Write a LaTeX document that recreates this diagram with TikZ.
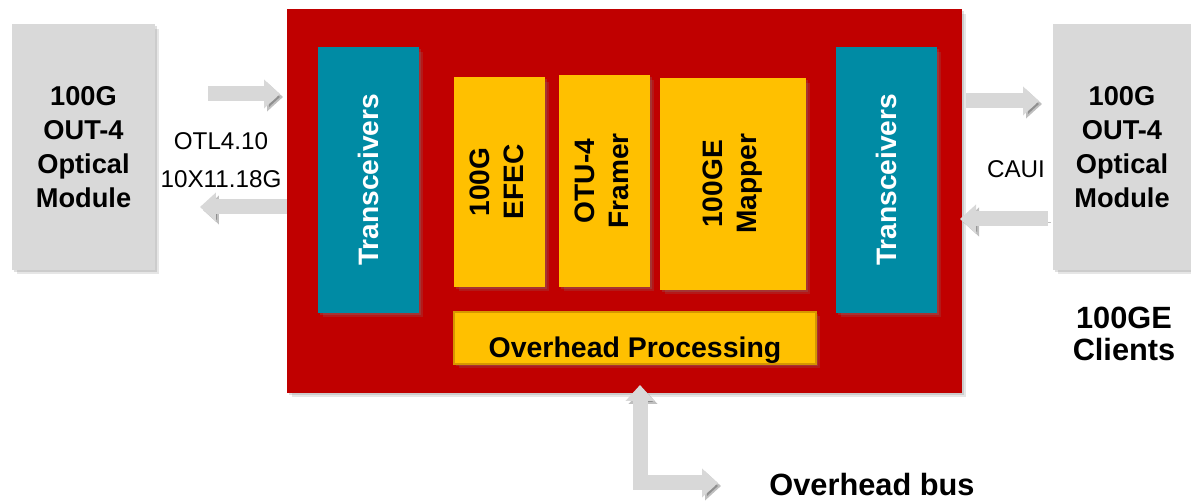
\documentclass[tikz,border=0pt]{standalone}
\usepackage{fontspec}
\setmainfont{Liberation Sans}
\usepackage{xcolor}
\usetikzlibrary{arrows.meta,shadows}
\definecolor{framered}{RGB}{192,0,0}
\definecolor{xcvrteal}{RGB}{0,139,164}
\definecolor{blockyellow}{RGB}{255,192,0}
\definecolor{ohpedge}{RGB}{214,150,0}
\definecolor{modgray}{RGB}{217,217,217}
\definecolor{pipegray}{RGB}{216,216,216}
\tikzset{
	boxshadow/.style={drop shadow={shadow xshift=0.04cm, shadow yshift=-0.04cm, opacity=0.25},
		drop shadow={shadow xshift=0.09cm, shadow yshift=-0.09cm, opacity=0.2}},
	fattip/.tip={Triangle[length=0.32cm, width=0.56cm]},
	fatarrow/.style={pipegray, line width=0.3cm, -fattip,
		preaction={draw=black, opacity=0.25, transform canvas={shift={(0.06cm,-0.06cm)}}}},
	module/.style={fill=modgray, boxshadow, align=center, inner sep=0pt, font=\fontsize{15.5}{19.3}\selectfont\bfseries},
	linklabel/.style={align=center, font=\fontsize{13.8}{21.5}\selectfont},
	biglabel/.style={align=center, font=\fontsize{17.5}{18.5}\selectfont\bfseries}
}

\begin{document}
\begin{tikzpicture}[
			x=0.02cm, y=-0.02cm,
			frame/.style={fill=framered, boxshadow, inner sep=0pt},
			xcvr/.style={fill=xcvrteal, boxshadow, text=white, inner sep=0pt, minimum width=2.02cm, minimum height=5.32cm, font=\fontsize{16}{19}\selectfont\bfseries},
			block/.style={fill=blockyellow, boxshadow, align=center, inner sep=0pt, font=\fontsize{16}{19.3}\selectfont\bfseries}
			]
			\useasboundingbox (0,0) rectangle (1191,502);
			
			% optical modules
			\node[module, minimum width=2.86cm, minimum height=4.92cm] (lmod) at (83.5,147) {100G\\OUT-4\\Optical\\Module};
			\node[module, minimum width=2.76cm, minimum height=4.92cm] (rmod) at (1122,147) {100G\\OUT-4\\Optical\\Module};
			
			\coordinate (linA) at (208,94);
			\coordinate (linB) at (280,94);
			\coordinate (loutA) at (298,207);
			\coordinate (loutB) at (200,207);
			\draw[fatarrow] (linA) -- (linB);
			\draw[fatarrow] (loutA) -- (loutB);
			
			% the card
			\node[frame, minimum width=13.5cm, minimum height=7.68cm] (card) at (624.5,201) {};
			
			\node[xcvr] (lxcvr) at (368.5,180) {\rotatebox{90}{Transceivers}};
			\node[xcvr] (rxcvr) at (886.5,180) {\rotatebox{90}{Transceivers}};
			
			\node[block, minimum width=1.82cm, minimum height=4.2cm] (efec) at (499.5,182)
			{\rotatebox{90}{\begin{tabular}{@{}c@{}}100G\\EFEC\end{tabular}}};
			\node[block, minimum width=1.82cm, minimum height=4.24cm] (framer) at (604.5,181)
			{\rotatebox{90}{\begin{tabular}{@{}c@{}}OTU-4\\Framer\end{tabular}}};
			\node[block, minimum width=2.92cm, minimum height=4.24cm] (mapper) at (733,184)
			{\rotatebox{90}{\begin{tabular}{@{}c@{}}100GE\\Mapper\end{tabular}}};
			
			\node[block, draw=ohpedge, line width=0.8pt, minimum width=7.24cm, minimum height=1.04cm,
			text height=0.8cm, text depth=0pt, font=\fontsize{16.2}{19}\selectfont\bfseries] (ohp) at (635,338) {Overhead Processing};
			
			% client side
			\coordinate (rinA) at (966,101);
			\coordinate (rinB) at (1039,101);
			\coordinate (routA) at (1048,219);
			\coordinate (routB) at (960,219);
			\draw[fatarrow] (rinA) -- (rinB);
			\draw[fatarrow] (routA) -- (routB);
			
			% overhead bus
			\coordinate (busup) at (640,385);
			\coordinate (busend) at (718,483);
			\draw[fatarrow, fattip-fattip] (busup) |- (busend);
			
			\node[linklabel] (otl) at (221,160) {OTL4.10\\10X11.18G};
			\node[linklabel] (caui) at (1016,169) {CAUI};
			\node[biglabel] (clients) at (1124,334) {100GE\\Clients};
			\node[biglabel] (bus) at (872,485) {Overhead bus};
		\end{tikzpicture}
\end{document}
